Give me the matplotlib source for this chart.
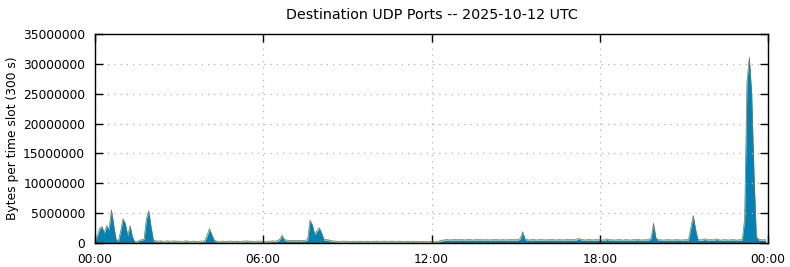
import numpy as np
import matplotlib
matplotlib.use("Agg")
import matplotlib.pyplot as plt

# bytes per 300 s slot, in millions, one row per hour (12 slots)
port_main = [
    0.1, 1.2, 2.4, 2.7, 1.6, 2.85, 2.2, 5.5, 3.0, 0.6, 0.25, 2.0,
    4.0, 3.2, 1.2, 2.85, 1.0, 0.2, 0.15, 0.4, 0.5, 0.6, 4.0, 5.35,
    2.6, 0.35, 0.25, 0.2, 0.25, 0.2, 0.2, 0.25, 0.2, 0.2, 0.25, 0.2,
    0.2, 0.15, 0.2, 0.25, 0.2, 0.15, 0.2, 0.2, 0.15, 0.2, 0.2, 0.3,
    1.2, 2.3, 1.3, 0.4, 0.2, 0.15, 0.2, 0.2, 0.15, 0.2, 0.2, 0.15,
    0.2, 0.2, 0.15, 0.2, 0.2, 0.25, 0.2, 0.2, 0.15, 0.2, 0.2, 0.2,
    0.2, 0.15, 0.2, 0.2, 0.25, 0.2, 0.3, 0.5, 1.2, 0.5, 0.35, 0.35,
    0.35, 0.3, 0.35, 0.35, 0.3, 0.35, 0.35, 0.5, 3.7, 3.0, 1.4, 2.0,
    2.45, 1.6, 0.5, 0.45, 0.4, 0.3, 0.25, 0.2, 0.2, 0.15, 0.2, 0.2,
    0.2, 0.15, 0.2, 0.2, 0.15, 0.2, 0.2, 0.15, 0.2, 0.2, 0.15, 0.2,
    0.2, 0.2, 0.15, 0.2, 0.2, 0.15, 0.2, 0.2, 0.2, 0.15, 0.2, 0.2,
    0.15, 0.2, 0.2, 0.15, 0.2, 0.2, 0.15, 0.15, 0.2, 0.15, 0.15, 0.15,
    0.15, 0.15, 0.2, 0.2, 0.3, 0.4, 0.45, 0.45, 0.4, 0.45, 0.45, 0.45,
    0.45, 0.45, 0.4, 0.45, 0.45, 0.45, 0.4, 0.45, 0.45, 0.45, 0.4, 0.45,
    0.45, 0.4, 0.45, 0.45, 0.45, 0.4, 0.45, 0.45, 0.4, 0.45, 0.45, 0.45,
    0.45, 0.45, 0.7, 1.8, 0.6, 0.45, 0.4, 0.45, 0.45, 0.4, 0.45, 0.45,
    0.45, 0.4, 0.45, 0.45, 0.45, 0.4, 0.45, 0.45, 0.4, 0.45, 0.45, 0.45,
    0.45, 0.45, 0.5, 0.7, 0.5, 0.45, 0.4, 0.45, 0.45, 0.4, 0.45, 0.45,
    0.45, 0.45, 0.4, 0.6, 0.45, 0.45, 0.4, 0.45, 0.45, 0.45, 0.4, 0.45,
    0.45, 0.4, 0.45, 0.45, 0.55, 0.45, 0.4, 0.45, 0.45, 0.45, 0.8, 3.2,
    0.8, 0.45, 0.45, 0.4, 0.45, 0.45, 0.45, 0.4, 0.45, 0.45, 0.45, 0.4,
    0.45, 0.45, 0.5, 2.5, 4.5, 2.2, 0.5, 0.45, 0.45, 0.6, 0.45, 0.45,
    0.45, 0.45, 0.6, 0.45, 0.4, 0.45, 0.45, 0.4, 0.45, 0.45, 0.45, 0.4,
    0.45, 0.5, 4.0, 27.0, 31.0, 25.0, 11.5, 1.0, 0.5, 0.45, 0.45, 0.45,
]
port_other = [
    0.0, 0.05, 0.05, 0.05, 0.05, 0.05, 0.05, 0.05, 0.05, 0.05, 0.05, 0.05,
    0.05, 0.05, 0.05, 0.05, 0.05, 0.05, 0.05, 0.05, 0.05, 0.05, 0.05, 0.05,
    0.1, 0.1, 0.12, 0.1, 0.12, 0.1, 0.1, 0.12, 0.1, 0.12, 0.1, 0.1,
    0.12, 0.1, 0.1, 0.12, 0.1, 0.1, 0.12, 0.1, 0.1, 0.12, 0.1, 0.1,
    0.1, 0.1, 0.1, 0.1, 0.12, 0.1, 0.1, 0.12, 0.1, 0.1, 0.12, 0.1,
    0.1, 0.12, 0.1, 0.1, 0.12, 0.1, 0.1, 0.12, 0.1, 0.1, 0.12, 0.1,
    0.1, 0.12, 0.1, 0.1, 0.12, 0.1, 0.1, 0.1, 0.1, 0.1, 0.12, 0.1,
    0.1, 0.12, 0.1, 0.1, 0.12, 0.1, 0.1, 0.1, 0.1, 0.1, 0.1, 0.1,
    0.1, 0.1, 0.1, 0.1, 0.12, 0.1, 0.1, 0.12, 0.1, 0.1, 0.12, 0.1,
    0.1, 0.12, 0.1, 0.1, 0.12, 0.1, 0.1, 0.12, 0.1, 0.1, 0.12, 0.1,
    0.1, 0.12, 0.1, 0.1, 0.12, 0.1, 0.1, 0.12, 0.1, 0.1, 0.12, 0.1,
    0.1, 0.1, 0.08, 0.1, 0.1, 0.08, 0.1, 0.1, 0.08, 0.1, 0.1, 0.08,
    0.08, 0.08, 0.08, 0.1, 0.1, 0.1, 0.1, 0.12, 0.1, 0.1, 0.12, 0.1,
    0.1, 0.12, 0.1, 0.1, 0.12, 0.1, 0.1, 0.12, 0.1, 0.1, 0.12, 0.1,
    0.1, 0.12, 0.1, 0.1, 0.12, 0.1, 0.1, 0.12, 0.1, 0.1, 0.12, 0.1,
    0.1, 0.1, 0.1, 0.1, 0.1, 0.1, 0.1, 0.12, 0.1, 0.1, 0.12, 0.1,
    0.1, 0.12, 0.1, 0.1, 0.12, 0.1, 0.1, 0.12, 0.1, 0.1, 0.12, 0.1,
    0.1, 0.1, 0.1, 0.1, 0.1, 0.1, 0.1, 0.12, 0.1, 0.1, 0.12, 0.1,
    0.1, 0.08, 0.1, 0.1, 0.08, 0.1, 0.1, 0.08, 0.1, 0.1, 0.08, 0.1,
    0.1, 0.08, 0.1, 0.1, 0.08, 0.1, 0.1, 0.08, 0.1, 0.1, 0.1, 0.1,
    0.1, 0.08, 0.1, 0.1, 0.08, 0.1, 0.1, 0.08, 0.1, 0.1, 0.08, 0.1,
    0.1, 0.08, 0.1, 0.1, 0.1, 0.1, 0.1, 0.08, 0.1, 0.1, 0.08, 0.1,
    0.1, 0.08, 0.1, 0.1, 0.08, 0.1, 0.1, 0.08, 0.1, 0.1, 0.08, 0.1,
    0.1, 0.1, 0.1, 0.1, 0.1, 0.1, 0.1, 0.1, 0.08, 0.1, 0.08, 0.1,
]
slot_seconds = 300
tick_hours = [0, 6, 12, 18, 24]
tick_labels = ["00:00", "06:00", "12:00", "18:00", "00:00"]
y_ticks = [0, 5e6, 10e6, 15e6, 20e6, 25e6, 30e6, 35e6]

hours = np.arange(len(port_main)) * slot_seconds / 3600.0
main = np.array(port_main) * 1e6
other = np.array(port_other) * 1e6

fig = plt.figure(figsize=(7.9, 2.67), dpi=100)
ax = fig.add_axes([95 / 790, 24 / 267, 673 / 790, 209 / 267])

ax.fill_between(hours, 0, main, color="#0580b2", lw=0)
ax.fill_between(hours, main, main + other, color="#c9a040", lw=0)
ax.plot(hours, main + other, color="#5f7a5a", lw=0.5)

ax.set_xlim(0, 24)
ax.set_ylim(0, 35e6)
ax.set_xticks(tick_hours)
ax.set_xticklabels(tick_labels)
ax.set_yticks(y_ticks)
ax.set_yticklabels([str(int(v)) for v in y_ticks])

ax.tick_params(direction="in", length=6, width=1, top=True, right=True,
               labelsize=8.8, pad=7)
ax.grid(True, color="#b0b0b0", linestyle=(0, (1, 4)), lw=0.9)
for sp in ax.spines.values():
    sp.set_linewidth(1.0)

ax.set_ylabel("Bytes per time slot (300 s)", fontsize=8.8, labelpad=3)
ax.set_title("Destination UDP Ports -- 2025-10-12 UTC", fontsize=10.3, pad=11)

fig.savefig("out.png", dpi=100)
